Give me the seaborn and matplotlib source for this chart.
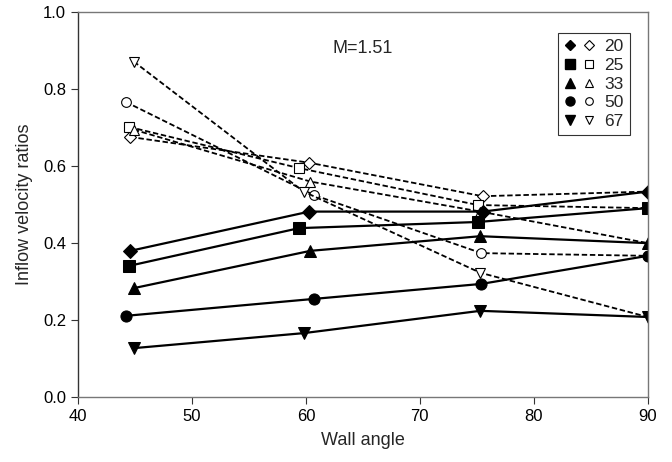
import pandas as pd
import matplotlib
matplotlib.use('Agg')
import matplotlib.pyplot as plt
import seaborn as sns
from matplotlib.lines import Line2D
from matplotlib.legend_handler import HandlerTuple

# Data
labels = ['20', '25', '33', '50', '67']
markers = ['D', 's', '^', 'o', 'v']

angle_20 = [44.6, 60.3, 75.5, 90]
angle_25 = [44.5, 59.4, 75.1, 90]
angle_33 = [44.9, 60.4, 75.3, 90]
angle_50 = [44.2, 60.7, 75.4, 90]
angle_67 = [44.9, 59.8, 75.3, 90]

filled_20 = [0.380, 0.482, 0.482, 0.534]
filled_25 = [0.341, 0.439, 0.455, 0.491]
filled_33 = [0.283, 0.380, 0.418, 0.400]
filled_50 = [0.211, 0.255, 0.294, 0.367]
filled_67 = [0.127, 0.166, 0.224, 0.208]

open_20 = [0.676, 0.609, 0.522, 0.534]
open_25 = [0.702, 0.595, 0.499, 0.491]
open_33 = [0.695, 0.560, 0.482, 0.400]
open_50 = [0.767, 0.525, 0.374, 0.367]
open_67 = [0.872, 0.534, 0.323, 0.208]

angles = [angle_20, angle_25, angle_33, angle_50, angle_67]
filled = [filled_20, filled_25, filled_33, filled_50, filled_67]
opened = [open_20, open_25, open_33, open_50, open_67]

sns.set_style('ticks')
plt.rcParams['font.family'] = ['Liberation Sans', 'DejaVu Sans']

fig = plt.figure(figsize=(6.72, 4.62), dpi=100)
ax = fig.add_axes([0.116, 0.1407, 0.848, 0.8326])

# open markers, dashed lines (drawn first, filled ones sit on top)
for x, y, m in zip(angles, opened, markers):
    df = pd.DataFrame({'angle': x, 'ratio': y})
    sns.lineplot(data=df, x='angle', y='ratio', ax=ax, color='black',
                 linestyle=(0, (3, 1.5)), linewidth=1.3, marker=m,
                 markersize=6 if m == 'D' else 7, markerfacecolor='white',
                 markeredgecolor='black', markeredgewidth=0.8)

# filled markers, solid lines
for x, y, m in zip(angles, filled, markers):
    df = pd.DataFrame({'angle': x, 'ratio': y})
    sns.lineplot(data=df, x='angle', y='ratio', ax=ax, color='black',
                 linestyle='-', linewidth=1.6, marker=m,
                 markersize=7 if m == 'D' else 8, markerfacecolor='black',
                 markeredgecolor='black')

ax.set_xlim(40, 90)
ax.set_ylim(0, 1.0)
ax.set_xticks([40, 50, 60, 70, 80, 90])
ax.set_yticks([0.0, 0.2, 0.4, 0.6, 0.8, 1.0])
ax.set_yticklabels(['0.0', '0.2', '0.4', '0.6', '0.8', '1.0'])
ax.tick_params(labelsize=12, length=5, width=0.8, colors='#333333')
ax.tick_params(axis='both', labelcolor='black')
ax.set_xlabel('Wall angle', fontsize=13, labelpad=6)
ax.set_ylabel('Inflow velocity ratios', fontsize=13, labelpad=7)

for side in ['top', 'right', 'bottom']:
    ax.spines[side].set_visible(True)
    ax.spines[side].set_color('#777777')
    ax.spines[side].set_linewidth(1.0)
ax.spines['left'].set_color('#333333')
ax.spines['left'].set_linewidth(1.0)

ax.text(65, 0.905, 'M=1.51', ha='center', va='center', fontsize=13)

handles = []
for m in markers:
    ms_f = 5.5 if m == 'D' else 6.5
    ms_o = 5 if m == 'D' else 5.5
    h_f = Line2D([], [], linestyle='none', marker=m, markersize=ms_f,
                 markerfacecolor='black', markeredgecolor='black')
    h_o = Line2D([], [], linestyle='none', marker=m, markersize=ms_o,
                 markerfacecolor='white', markeredgecolor='black', markeredgewidth=0.8)
    handles.append((h_f, h_o))

leg = ax.legend(handles, labels, handler_map={tuple: HandlerTuple(ndivide=None, pad=0.4)},
                loc='upper right', bbox_to_anchor=(0.968, 0.946), fontsize=12.5,
                frameon=True, fancybox=False, handlelength=1.8, handletextpad=0.5,
                labelspacing=0.2, borderpad=0.35, borderaxespad=0.0)
leg.get_frame().set_edgecolor('black')
leg.get_frame().set_linewidth(0.8)

fig.savefig('out.png', dpi=100)
